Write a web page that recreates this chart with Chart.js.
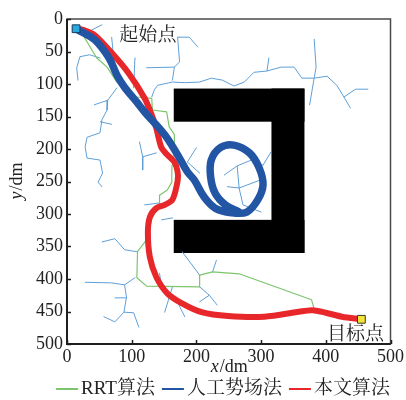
<!DOCTYPE html>
<html>
<head>
<meta charset="utf-8">
<script src="https://cdn.jsdelivr.net/npm/chart.js@4/dist/chart.umd.min.js"></script>
<style>
  html, body { margin: 0; padding: 0; background: #fff; }
  #wrap { width: 406px; height: 400px; }
</style>
</head>
<body>
<div id="wrap"><canvas id="c" width="406" height="400"></canvas></div>
<script>
// ---- data (coordinates in dm) ----
const seriesNames = ['RRT算法', '人工势场法', '本文算法'];
const xTickValues = [0, 100, 200, 300, 400, 500];
const yTickValues = [0, 50, 100, 150, 200, 250, 300, 350, 400, 450, 500];
const startPoint = [14, 15];
const goalPoint = [455, 462];
const startLabel = '起始点';
const goalLabel = '目标点';

// U-shaped obstacle, open to the left: [x0, y0, x1, y1]
const obstacleRects = [
  [165, 107, 367, 158],
  [316, 107, 367, 360],
  [165, 309, 367, 360]
];

// RRT path
const rrtPath = [
  [14,15],[23,22],[32,37],[46,60],[62,74],[77,97],[92,109],[108,120],[131,122],
  [132,140],[154,143],[158,166],[166,178],[166,205],[162,229],[162,251],[155,263],
  [143,271],[143,286],[131,306],[125,337],[109,358],[108,398],[123,411],[205,412],
  [205,394],[225,389],[266,392],[378,432],[382,446],[455,462]
];

// artificial potential field path (trapped in a loop)
const apfPath = [
  [14,15],[23,20],[43,32],[65,60],[77,86],[89,105],[108,128],[120,143],[151,178],
  [171,209],[186,235],[197,248],[212,274],[229,291],[254,298],[278,297],[295,278],
  [303,255],[297,229],[282,206],[258,194],[237,198],[223,217],[222,243],[229,268],
  [245,286],[266,297]
];

// proposed algorithm path
const ourPath = [
  [14,15],[26,17],[43,25],[69,52],[95,83],[120,122],[131,148],[138,168],[146,198],
  [155,209],[166,220],[171,235],[171,249],[163,278],[151,286],[138,291],[128,305],
  [125,329],[128,366],[138,397],[155,422],[177,437],[208,451],[249,457],[305,458],
  [378,448],[400,452],[425,458],[455,462]
];

// explored RRT tree branches
const treeBranches = [
  [[32,20],[54,9]],
  [[20,58],[35,55],[51,60]],
  [[20,58],[15,75],[17,94]],
  [[69,28],[72,58]],
  [[105,60],[103,106]],
  [[77,106],[63,125],[62,140],[54,155],[51,175],[31,182],[28,197],[31,214],[51,217],[55,237],[48,251],[54,258]],
  [[42,132],[63,125]],
  [[51,158],[69,162]],
  [[112,189],[117,212],[117,232]],
  [[117,212],[138,206]],
  [[131,120],[135,109],[140,102],[163,97],[182,98],[205,97],[223,91],[240,94],[258,103],[274,97],[289,82],[309,80],[331,74],[351,74],[363,91],[382,91],[402,88],[417,102],[428,120],[438,137]],
  [[171,28],[174,66],[166,74],[163,94]],
  [[171,28],[189,28],[202,43]],
  [[166,74],[123,75]],
  [[309,80],[312,60]],
  [[382,31],[385,74],[382,91],[375,132]],
  [[428,120],[446,108],[465,108]],
  [[54,343],[74,338],[89,355],[108,358]],
  [[28,405],[69,406],[89,409],[105,398]],
  [[89,409],[92,428],[88,451],[74,466],[57,458]],
  [[74,429],[92,429]],
  [[88,451],[103,452],[111,474]],
  [[120,286],[143,283]],
  [[146,309],[163,306]],
  [[178,358],[205,394]],
  [[143,391],[146,412]],
  [[163,412],[151,451]],
  [[169,432],[182,458]],
  [[205,412],[220,425],[232,440]],
  [[220,425],[205,435]],
  [[231,371],[225,389]],
  [[243,240],[263,226],[285,217],[303,225],[315,205]],
  [[263,226],[266,260],[248,258]],
  [[266,260],[298,248]],
  [[266,260],[272,286],[300,297]],
  [[200,198],[186,220],[205,237]]
];

// ---- styling ----
const COLORS = { rrt: '#7cc56c', apf: '#2355a5', ours: '#e8272b', tree: '#5f9fd6' };
const SERIF = '"Liberation Serif", "Times New Roman", serif';
const CJK = '"Noto Serif CJK SC", "Noto Sans CJK SC", serif';
const TEXT = '#222';

const toXY = pts => pts.map(([x, y]) => ({ x, y }));
const treeData = [];
treeBranches.forEach((b, i) => {
  if (i > 0) treeData.push({ x: null, y: null });
  b.forEach(([x, y]) => treeData.push({ x, y }));
});

const pathStyle = (color, width, tension) => ({
  showLine: true, borderColor: color, backgroundColor: color, borderWidth: width,
  pointRadius: 0, tension, borderCapStyle: 'round', borderJoinStyle: 'round', spanGaps: false
});

// obstacle, frame, inward ticks, annotations, axis titles, legend
const decor = {
  id: 'decor',
  beforeDatasetsDraw(chart) {
    const { ctx, scales: { x, y } } = chart;
    ctx.save();
    ctx.fillStyle = '#000';
    obstacleRects.forEach(([x0, y0, x1, y1]) => {
      const l = x.getPixelForValue(x0), r = x.getPixelForValue(x1);
      const t = y.getPixelForValue(y0), b = y.getPixelForValue(y1);
      ctx.fillRect(Math.min(l, r), Math.min(t, b), Math.abs(r - l), Math.abs(b - t));
    });
    ctx.restore();
  },
  afterDatasetsDraw(chart) {
    const { ctx, chartArea: a, scales: { x, y } } = chart;
    ctx.save();
    // frame
    ctx.strokeStyle = '#4a4a4a';
    ctx.lineWidth = 1.5;
    ctx.strokeRect(a.left, a.top, a.right - a.left, a.bottom - a.top);
    ctx.strokeStyle = '#1e1e1e';
    ctx.lineWidth = 2;
    ctx.beginPath();
    ctx.moveTo(a.left, a.top); ctx.lineTo(a.left, a.bottom); ctx.lineTo(a.right, a.bottom);
    ctx.stroke();
    // inward ticks
    ctx.lineWidth = 1.5;
    ctx.beginPath();
    x.ticks.forEach(t => {
      const p = Math.round(x.getPixelForValue(t.value)) + 0.5;
      ctx.moveTo(p, a.bottom); ctx.lineTo(p, a.bottom - 4);
    });
    y.ticks.forEach(t => {
      const p = Math.round(y.getPixelForValue(t.value)) + 0.5;
      ctx.moveTo(a.left, p); ctx.lineTo(a.left + 4, p);
    });
    ctx.stroke();

    // point annotations
    ctx.fillStyle = TEXT;
    ctx.font = '19px ' + CJK;
    ctx.textBaseline = 'middle';
    ctx.textAlign = 'center';
    ctx.fillText(startLabel, x.getPixelForValue(125), y.getPixelForValue(22));
    ctx.fillText(goalLabel, x.getPixelForValue(446), y.getPixelForValue(482));

    // axis titles with italic variable
    const drawTitle = (v, cx, cy) => {
      ctx.font = 'italic 18px ' + SERIF;
      const w1 = ctx.measureText(v).width;
      ctx.font = '18px ' + SERIF;
      const w2 = ctx.measureText('/dm').width;
      let sx = cx - (w1 + w2) / 2;
      ctx.textAlign = 'left';
      ctx.font = 'italic 18px ' + SERIF;
      ctx.fillText(v, sx, cy);
      ctx.font = '18px ' + SERIF;
      ctx.fillText('/dm', sx + w1 + 1, cy);
    };
    drawTitle('x', (a.left + a.right) / 2, 367);
    ctx.save();
    ctx.translate(17, (a.top + a.bottom) / 2);
    ctx.rotate(-Math.PI / 2);
    drawTitle('y', 0, 0);
    ctx.restore();

    // legend
    const items = [
      { text: seriesNames[0], color: COLORS.rrt },
      { text: seriesNames[1], color: COLORS.apf },
      { text: seriesNames[2], color: COLORS.ours }
    ];
    ctx.font = '19px ' + SERIF.replace('serif', '') + CJK;
    const lineW = 22, gapA = 3, gapB = 7;
    const widths = items.map(it => ctx.measureText(it.text).width);
    const total = widths.reduce((s, w) => s + lineW + gapA + w, 0) + gapB * (items.length - 1);
    let lx = 223 - total / 2;
    const ly = 389;
    ctx.textAlign = 'left';
    items.forEach((it, i) => {
      ctx.strokeStyle = it.color;
      ctx.lineWidth = 2;
      ctx.beginPath();
      ctx.moveTo(lx, ly); ctx.lineTo(lx + lineW, ly);
      ctx.stroke();
      ctx.fillStyle = TEXT;
      ctx.fillText(it.text, lx + lineW + gapA, ly);
      lx += lineW + gapA + widths[i] + gapB;
    });
    ctx.restore();
  }
};

const tickFont = { family: SERIF, size: 18 };

new Chart(document.getElementById('c'), {
  type: 'scatter',
  data: {
    datasets: [
      { label: 'start', data: toXY([startPoint]), pointStyle: 'rect', pointRadius: 5.5,
        backgroundColor: '#2aa8e0', borderColor: '#1b3c5e', borderWidth: 1 },
      { label: 'goal', data: toXY([goalPoint]), pointStyle: 'rect', pointRadius: 5.5,
        backgroundColor: '#f1e43a', borderColor: '#3a3a20', borderWidth: 1 },
      { label: seriesNames[1], data: toXY(apfPath), ...pathStyle(COLORS.apf, 7.5, 0.35) },
      { label: seriesNames[2], data: toXY(ourPath), ...pathStyle(COLORS.ours, 6, 0.3) },
      { label: seriesNames[0], data: toXY(rrtPath), ...pathStyle(COLORS.rrt, 1.2, 0) },
      { label: 'tree', data: treeData, ...pathStyle(COLORS.tree, 1, 0) }
    ]
  },
  options: {
    responsive: false,
    animation: false,
    devicePixelRatio: 1,
    layout: { padding: { left: 0, right: 14, top: 19, bottom: 0 } },
    plugins: { legend: { display: false }, tooltip: { enabled: false } },
    scales: {
      x: {
        type: 'linear', min: 0, max: 500, position: 'bottom',
        afterBuildTicks: s => { s.ticks = xTickValues.map(v => ({ value: v })); },
        afterFit: s => { s.height = 56; },
        ticks: { font: tickFont, color: TEXT, padding: 2, maxRotation: 0, autoSkip: false },
        grid: { display: false, drawTicks: false },
        border: { display: false }
      },
      y: {
        type: 'linear', min: 0, max: 500, reverse: true,
        afterBuildTicks: s => { s.ticks = yTickValues.map(v => ({ value: v })); },
        afterFit: s => { s.width = 67; },
        ticks: { font: tickFont, color: TEXT, padding: 4, autoSkip: false },
        grid: { display: false, drawTicks: false },
        border: { display: false }
      }
    }
  },
  plugins: [decor]
});
</script>
</body>
</html>
